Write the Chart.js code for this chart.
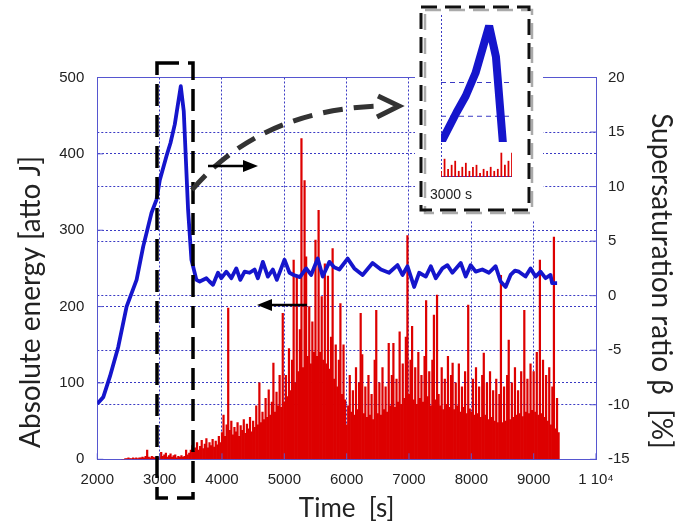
<!DOCTYPE html>
<html>
<head>
<meta charset="utf-8">
<script src="https://cdn.jsdelivr.net/npm/chart.js@4.4.1/dist/chart.umd.min.js"></script>
<style>
  html, body { margin: 0; padding: 0; background: #fff; }
  #wrap { position: relative; width: 676px; height: 526px; }
  #main { position: absolute; left: 0; top: 0; width: 676px; height: 526px; }
  #inset { position: absolute; left: 441px; top: 15px; width: 71px; height: 162px; }
</style>
</head>
<body>
<div id="wrap">
  <div id="main"><canvas id="energy"></canvas></div>
  <div id="inset"><canvas id="zoom"></canvas></div>
</div>
<script>
// supersaturation ratio beta [%] (right axis)
var ssTime = [2000, 2096, 2203, 2336, 2470, 2630, 2736, 2870, 2950, 3003, 3110, 3174, 3243, 3339, 3387, 3456, 3510,
  3590, 3643, 3750, 3800, 3856, 3936, 3990, 4070, 4150, 4230, 4294, 4363, 4443, 4523, 4576, 4656, 4736, 4816, 4880,
  5003, 5083, 5150, 5250, 5350, 5430, 5536, 5616, 5723, 5800, 5883, 6016, 6123, 6256, 6416, 6550, 6680, 6816, 6896,
  6976, 7083, 7163, 7270, 7350, 7430, 7536, 7616, 7696, 7830, 7910, 7990, 8070, 8176, 8283, 8390, 8470, 8550, 8630,
  8700, 8763, 8870, 8950, 9030, 9110, 9190, 9270, 9296, 9376];
var ssValue = [-9.9, -9.3, -7.4, -4.7, -1.0, 1.45, 4.5, 7.6, 8.8, 10.6, 12.8, 14.0, 15.7, 19.2, 16.9, 7.9, 3.3,
  1.45, 1.3, 1.6, 1.3, 1.0, 2.1, 1.6, 2.2, 1.6, 2.5, 1.45, 2.2, 2.1, 2.4, 1.6, 3.1, 1.75, 2.4, 1.45,
  3.3, 2.1, 1.9, 1.7, 2.5, 1.9, 3.4, 1.75, 3.1, 2.6, 2.4, 3.4, 2.5, 1.9, 3.0, 2.4, 2.1, 2.8, 1.9,
  2.7, 0.8, 2.1, 1.75, 2.7, 1.6, 2.5, 2.8, 2.1, 3.0, 1.75, 2.8, 2.2, 2.4, 2.1, 2.7, 1.3, 0.8, 1.9,
  2.3, 2.2, 1.75, 2.5, 1.75, 2.2, 1.6, 1.9, 1.15, 1.15];

// absolute AE energy [atto J] (left axis), one bar every 25 s from 2400 s
var aeStart = 2400;
var aeStep = 25;
var aeEnergy = [
  0, 0, 1, 1, 2, 1, 1, 2, 1, 2, 1, 2, 2, 3, 2, 4, 12, 3, 2, 4, 3, 2, 3, 2,
  3, 9, 4, 6, 8, 3, 5, 7, 3, 5, 6, 2, 4, 3, 5, 3, 4, 12, 6, 8,
  12, 18, 10, 15, 22, 12, 17, 25, 14, 20, 27, 15, 22, 18, 26, 16, 24, 19, 30, 22,
  35, 58, 30, 45, 198, 38, 50, 32, 42, 36, 48, 30, 44, 38, 52, 34, 46, 40, 55, 36,
  50, 42, 70, 45, 100, 48, 62, 52, 80, 55, 91, 58, 75, 126, 62, 88, 70, 110, 68, 191,
  75, 110, 82, 145, 90, 130, 261, 100, 240, 115, 170, 420, 120, 365, 265, 135, 200, 125, 180, 140,
  287, 135, 326, 140, 213, 130, 256, 125, 240, 118, 160, 276, 105, 150, 95, 130, 204, 85, 150, 78,
  45, 70, 110, 62, 90, 58, 120, 65, 100, 191, 137, 60, 95, 55, 110, 58, 85, 52, 130, 195,
  60, 100, 58, 120, 65, 95, 62, 152, 70, 110, 152, 68, 105, 75, 167, 72, 125, 80, 160, 293,
  85, 130, 174, 78, 120, 72, 140, 80, 110, 75, 135, 208, 82, 115, 70, 130, 189, 78, 215, 85,
  70, 120, 65, 105, 72, 135, 68, 110, 126, 65, 100, 70, 125, 62, 95, 68, 115, 60, 202, 66,
  62, 105, 58, 120, 60, 95, 55, 110, 139, 58, 100, 52, 115, 55, 90, 50, 105, 48, 85, 241,
  48, 95, 50, 110, 156, 52, 100, 55, 120, 58, 90, 60, 115, 56, 195, 62, 105, 60, 125, 64,
  115, 62, 140, 58, 261, 60, 130, 55, 110, 50, 120, 45, 95, 291, 40, 80, 35
];

var leftTitle = 'Absolute energy [atto J]';
var rightTitle = 'Supersaturation ratio \u03b2  [%]';

var gridBlue = '#3a3ac4';
var axisBlue = '#5656d0';
var lineBlue = '#1515cc';
var barRed = '#dd0000';
var tickFont = {family: 'Liberation Sans', size: 15};

var aePoints = aeEnergy.map(function (e, i) { return {x: aeStart + i * aeStep, y: e}; });
var ssPoints = ssTime.map(function (t, i) { return {x: t, y: ssValue[i]}; });

function arrow(ctx, x0, x1, y) {
  var dir = x1 > x0 ? 1 : -1;
  ctx.lineWidth = 2.5;
  ctx.beginPath(); ctx.moveTo(x0, y); ctx.lineTo(x1 - dir * 12, y); ctx.stroke();
  ctx.beginPath(); ctx.moveTo(x1, y); ctx.lineTo(x1 - dir * 15, y - 6); ctx.lineTo(x1 - dir * 15, y + 6);
  ctx.closePath(); ctx.fill();
}

function sideTitle(ctx, text, x, y, angle) {
  ctx.save();
  ctx.translate(x, y); ctx.rotate(angle);
  ctx.font = '28px Lato'; ctx.fillStyle = '#222';
  ctx.textAlign = 'center'; ctx.textBaseline = 'middle';
  ctx.fillText(text, 0, 0);
  ctx.restore();
}

var decor = {
  id: 'decor',
  afterDraw: function (chart) {
    var ctx = chart.ctx, a = chart.chartArea;
    var sx = chart.scales.x, sy = chart.scales.y, sy2 = chart.scales.y2;
    ctx.save();
    ctx.strokeStyle = axisBlue; ctx.lineWidth = 1;
    ctx.beginPath();
    ctx.moveTo(a.left, a.top); ctx.lineTo(a.right, a.top);
    sx.ticks.forEach(function (t) {
      var px = sx.getPixelForValue(t.value);
      ctx.moveTo(px, a.bottom); ctx.lineTo(px, a.bottom - 6);
    });
    sy.ticks.forEach(function (t) {
      var py = sy.getPixelForValue(t.value);
      ctx.moveTo(a.left, py); ctx.lineTo(a.left + 6, py);
    });
    sy2.ticks.forEach(function (t) {
      var py = sy2.getPixelForValue(t.value);
      ctx.moveTo(a.right, py); ctx.lineTo(a.right - 6, py);
    });
    ctx.stroke();

    sideTitle(ctx, leftTitle, 31, 302, -Math.PI / 2);
    sideTitle(ctx, rightTitle, 661, 281, Math.PI / 2);

    // zoom box around the peak
    ctx.strokeStyle = '#000'; ctx.lineWidth = 3.5; ctx.setLineDash([22, 9]);
    ctx.strokeRect(157, 63, 36, 435);

    // curved dashed arrow to the inset
    ctx.strokeStyle = '#333'; ctx.lineWidth = 5; ctx.setLineDash([20, 11]);
    ctx.beginPath(); ctx.moveTo(192, 190); ctx.quadraticCurveTo(260, 110, 380, 106); ctx.stroke();
    ctx.setLineDash([]);
    ctx.beginPath(); ctx.moveTo(378, 96); ctx.lineTo(399, 106); ctx.lineTo(377, 117); ctx.stroke();

    // axis arrows
    ctx.strokeStyle = '#000'; ctx.fillStyle = '#000';
    arrow(ctx, 208, 258, 166);
    arrow(ctx, 307, 257, 305);

    // inset frame
    ctx.fillStyle = '#fff'; ctx.fillRect(415, 0, 128, 220);
    ctx.setLineDash([16, 8]);
    ctx.strokeStyle = '#aaa'; ctx.lineWidth = 2.5; ctx.strokeRect(425, 10, 107, 203);
    ctx.strokeStyle = '#111'; ctx.lineWidth = 3; ctx.strokeRect(421, 7, 108, 203);
    ctx.setLineDash([]);
    ctx.fillStyle = '#222'; ctx.font = '14px "Liberation Sans"';
    ctx.textBaseline = 'middle'; ctx.fillText('3000 s', 430, 195);
    ctx.restore();
  }
};

new Chart('energy', {
  type: 'bar',
  data: {
    datasets: [
      {type: 'line', label: 'Supersaturation ratio', data: ssPoints, yAxisID: 'y2', borderColor: lineBlue,
        borderWidth: 3.8, borderJoinStyle: 'round', pointRadius: 0, tension: 0, order: 0},
      {type: 'bar', label: 'Absolute energy', data: aePoints, yAxisID: 'y', backgroundColor: barRed,
        borderWidth: 0, barPercentage: 1, categoryPercentage: 1, order: 1}
    ]
  },
  options: {
    responsive: true, maintainAspectRatio: false, animation: false,
    layout: {padding: {top: 77.5, left: 0, right: 0, bottom: 0}},
    plugins: {legend: {display: false}, tooltip: {enabled: false}},
    scales: {
      x: {
        type: 'linear', min: 2000, max: 10000, offset: false,
        grid: {color: gridBlue, offset: false, drawTicks: false},
        border: {color: axisBlue, dash: [2, 2]},
        ticks: {stepSize: 1000, padding: 12, color: '#222', font: tickFont, maxRotation: 0, autoSkip: false,
          callback: function (v) { return v === 10000 ? '1 10\u2074' : v; }},
        title: {display: true, text: 'Time  [s]', color: '#222', font: {family: 'Lato', size: 26}, padding: {top: 0, bottom: 2}},
        afterFit: function (s) { s.height = 66.7; }
      },
      y: {
        position: 'left', min: 0, max: 500,
        grid: {color: gridBlue, drawTicks: false},
        border: {color: axisBlue, dash: [2, 2]},
        ticks: {stepSize: 100, padding: 13, color: '#222', font: tickFont},
        afterFit: function (s) { s.width = 97.3; }
      },
      y2: {
        position: 'right', min: -15, max: 20,
        grid: {color: gridBlue, drawTicks: false},
        border: {color: axisBlue, dash: [2, 2]},
        ticks: {stepSize: 5, padding: 12, color: '#222', font: tickFont},
        afterFit: function (s) { s.width = 80; }
      }
    }
  },
  plugins: [decor]
});

var insetGrid = {
  id: 'insetGrid',
  beforeDatasetsDraw: function (chart) {
    var ctx = chart.ctx, a = chart.chartArea, ys = chart.scales.ys;
    ctx.save();
    ctx.strokeStyle = gridBlue; ctx.lineWidth = 1;
    ctx.setLineDash([2, 2]);
    ctx.beginPath(); ctx.moveTo(a.left + 0.5, a.top); ctx.lineTo(a.left + 0.5, a.bottom); ctx.stroke();
    ctx.setLineDash([5, 4]);
    ctx.beginPath();
    [12.5, 15].forEach(function (v) {
      var py = ys.getPixelForValue(v);
      ctx.moveTo(a.left, py); ctx.lineTo(a.right, py);
    });
    ctx.stroke();
    ctx.setLineDash([]);
    ctx.beginPath(); ctx.moveTo(a.left, a.bottom - 0.5); ctx.lineTo(a.right, a.bottom - 0.5); ctx.stroke();
    ctx.restore();
  }
};

new Chart('zoom', {
  type: 'bar',
  data: {
    datasets: [
      {type: 'line', data: ssPoints, yAxisID: 'ys', borderColor: lineBlue, borderWidth: 8, borderJoinStyle: 'bevel',
        pointRadius: 0, clip: {left: 0, top: 5, right: 0, bottom: -35}, order: 0},
      {type: 'bar', data: aePoints, yAxisID: 'ye', backgroundColor: barRed, borderWidth: 0,
        barPercentage: 0.5, categoryPercentage: 1, order: 1}
    ]
  },
  options: {
    responsive: true, maintainAspectRatio: false, animation: false,
    layout: {padding: 0},
    plugins: {legend: {display: false}, tooltip: {enabled: false}},
    scales: {
      x: {type: 'linear', display: false, min: 3000, max: 3500, offset: false},
      ys: {display: false, min: 8, max: 20},
      ye: {display: false, min: 0, max: 80}
    }
  },
  plugins: [insetGrid]
});
</script>
</body>
</html>
